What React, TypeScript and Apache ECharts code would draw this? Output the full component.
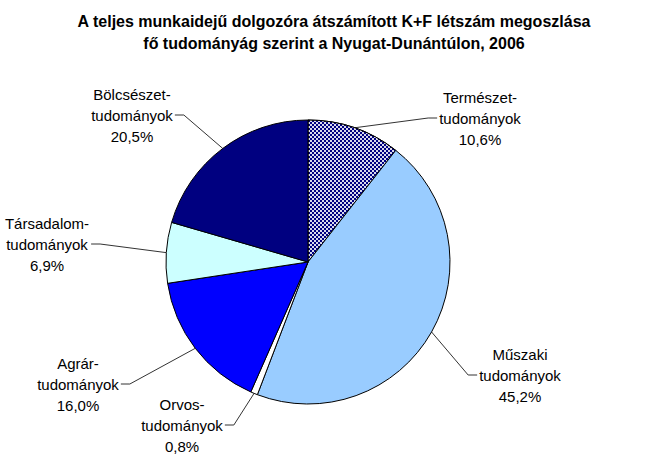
import React, { useEffect, useRef } from "react";
import * as echarts from "echarts";

const categories = [
  "Természet-\ntudományok",
  "Műszaki\ntudományok",
  "Orvos-\ntudományok",
  "Agrár-\ntudományok",
  "Társadalom-\ntudományok",
  "Bölcsészet-\ntudományok",
];
const values = [10.6, 45.2, 0.8, 16.0, 6.9, 20.5];
const colors = ["#000080", "#99ccff", "#ffffff", "#0000ff", "#ccffff", "#000080"];
const labelPos = [
  [480, 118],
  [520, 375],
  [182, 425],
  [78, 384],
  [47, 244],
  [132, 115],
];
const titleText =
  "A teljes munkaidejű dolgozóra átszámított K+F létszám megoszlása\nfő tudományág szerint a Nyugat-Dunántúlon, 2006";

const CX = 308;
const CY = 262;

export default function App() {
  const ref = useRef<HTMLDivElement>(null);
  useEffect(() => {
    if (!ref.current) return;
    const chart = echarts.init(ref.current, null, { renderer: "svg" });
    const data = categories.map((name, i) => {
      const item: any = {
        name,
        value: values[i],
        itemStyle: { color: colors[i] },
      };
      if (i === 0) {
        item.itemStyle.decal = {
          symbol: "rect",
          symbolSize: 1,
          color: "rgba(255,255,255,0.85)",
          dashArrayX: [[2, 2], [0, 2, 2, 0]],
          dashArrayY: [2, 0],
          rotation: 0,
        };
      }
      return item;
    });
    chart.setOption({
      animation: false,
      backgroundColor: "#ffffff",
      title: {
        text: titleText,
        left: 329,
        textAlign: "center",
        top: 5,
        textStyle: {
          fontFamily: "Liberation Sans, Arial, sans-serif",
          fontSize: 16,
          fontWeight: "bold",
          color: "#000000",
          lineHeight: 22,
        },
      },
      series: [
        {
          type: "pie",
          center: [CX, CY],
          radius: [0, 142],
          startAngle: 90,
          clockwise: true,
          avoidLabelOverlap: false,
          data,
          itemStyle: { borderColor: "#000000", borderWidth: 1 },
          emphasis: { disabled: true },
          label: {
            show: true,
            position: "outside",
            formatter: (p: any) =>
              `${p.name}\n${Number(p.value).toFixed(1).replace(".", ",")}%`,
            fontFamily: "Liberation Sans, Arial, sans-serif",
            fontSize: 15,
            lineHeight: 21,
            color: "#000000",
            align: "center",
          },
          labelLine: {
            show: true,
            length: 10,
            length2: 10,
            lineStyle: { color: "#333333", width: 1 },
          },
          labelLayout: (params: any) => {
            const i = params.dataIndex;
            const [x, y] = labelPos[i];
            const w = params.labelRect.width;
            const p0 = params.labelLinePoints
              ? params.labelLinePoints[0]
              : [CX, CY];
            const left = x < CX;
            const ax = left ? x + w / 2 + 2 : x - w / 2 - 2;
            const bx = left ? ax + 9 : ax - 9;
            return {
              x,
              y,
              align: "center",
              verticalAlign: "middle",
              labelLinePoints: [p0, [bx, y], [ax, y]],
            };
          },
        },
      ],
    });
    return () => chart.dispose();
  }, []);
  return (
    <div
      ref={ref}
      style={{ position: "absolute", left: 0, top: 0, width: 657, height: 474 }}
    />
  );
}
